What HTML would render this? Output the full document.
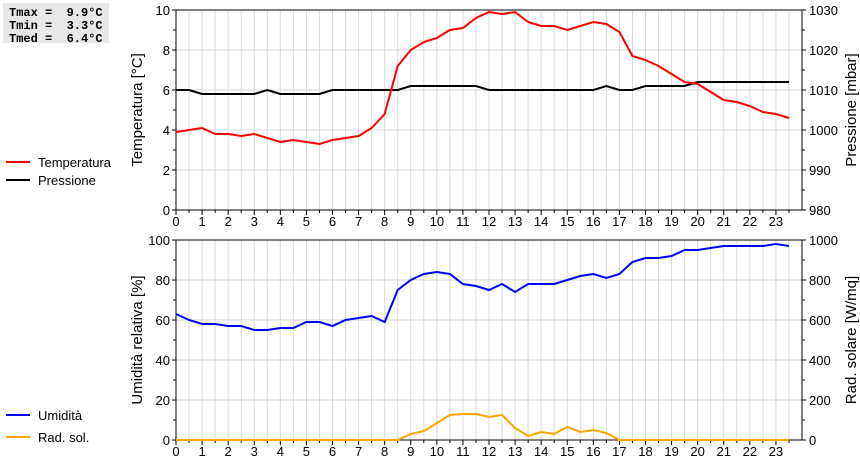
<!DOCTYPE html>
<html><head><meta charset="utf-8"><style>
body{margin:0;background:#fff;width:860px;height:460px;overflow:hidden;font-family:"Liberation Sans",sans-serif}
svg text{font-family:"Liberation Sans",sans-serif;font-size:13px;fill:#000}
</style></head><body>
<svg id="c" width="860" height="460" xmlns="http://www.w3.org/2000/svg">
<g>
<rect x="3" y="3" width="106" height="40" fill="#e8e8e8"/>
<text x="9" y="16" style="font-family:'Liberation Mono',monospace;font-size:12px;font-weight:bold" xml:space="preserve">Tmax =  9.9°C</text>
<text x="9" y="29" style="font-family:'Liberation Mono',monospace;font-size:12px;font-weight:bold" xml:space="preserve">Tmin =  3.3°C</text>
<text x="9" y="42" style="font-family:'Liberation Mono',monospace;font-size:12px;font-weight:bold" xml:space="preserve">Tmed =  6.4°C</text>
</g>
<g>
<line x1="6" y1="162" x2="30" y2="162" stroke="#f00" stroke-width="2"/><text x="38" y="167">Temperatura</text>
<line x1="6" y1="180" x2="30" y2="180" stroke="#000" stroke-width="2"/><text x="38" y="185">Pressione</text>
</g>
<g>
<line x1="6" y1="415" x2="30" y2="415" stroke="#00f" stroke-width="2"/><text x="38" y="420">Umidità</text>
<line x1="6" y1="437" x2="30" y2="437" stroke="#ffa500" stroke-width="2"/><text x="38" y="442">Rad. sol.</text>
</g>
<g id="g"></g>
</svg>
<script>
const hours=[0,0.5,1,1.5,2,2.5,3,3.5,4,4.5,5,5.5,6,6.5,7,7.5,8,8.5,9,9.5,10,10.5,11,11.5,12,12.5,13,13.5,14,14.5,15,15.5,16,16.5,17,17.5,18,18.5,19,19.5,20,20.5,21,21.5,22,22.5,23,23.5];
const temperature=[3.9,4.0,4.1,3.8,3.8,3.7,3.8,3.6,3.4,3.5,3.4,3.3,3.5,3.6,3.7,4.1,4.8,7.2,8.0,8.4,8.6,9.0,9.1,9.6,9.9,9.8,9.9,9.4,9.2,9.2,9.0,9.2,9.4,9.3,8.9,7.7,7.5,7.2,6.8,6.4,6.3,5.9,5.5,5.4,5.2,4.9,4.8,4.6];
const pressure=[1010,1010,1009,1009,1009,1009,1009,1010,1009,1009,1009,1009,1010,1010,1010,1010,1010,1010,1011,1011,1011,1011,1011,1011,1010,1010,1010,1010,1010,1010,1010,1010,1010,1011,1010,1010,1011,1011,1011,1011,1012,1012,1012,1012,1012,1012,1012,1012];
const humidity=[63,60,58,58,57,57,55,55,56,56,59,59,57,60,61,62,59,75,80,83,84,83,78,77,75,78,74,78,78,78,80,82,83,81,83,89,91,91,92,95,95,96,97,97,97,97,98,97];
const radiation=[0,0,0,0,0,0,0,0,0,0,0,0,0,0,0,0,0,0,30,45,85,125,130,130,115,125,60,20,40,30,65,40,50,35,0,0,0,0,0,0,0,0,0,0,0,0,0,0];
const xTicks=[0,1,2,3,4,5,6,7,8,9,10,11,12,13,14,15,16,17,18,19,20,21,22,23];
const tempTicks=[0,2,4,6,8,10];
const presTicks=[980,990,1000,1010,1020,1030];
const humTicks=[0,20,40,60,80,100];
const radTicks=[0,200,400,600,800,1000];
const NS="http://www.w3.org/2000/svg",G=document.getElementById('g');
const X0=176,X1=802,XMAX=24;
const xs=h=>X0+h*(X1-X0)/XMAX;
function mk(t,a,p){const e=document.createElementNS(NS,t);for(const k in a)e.setAttribute(k,a[k]);(p||G).appendChild(e);return e;}
function panel(top,bot,lmin,lmax,lt,rmin,rmax,rt,ltitle,rtitle,name){
 const g=mk('g',{});
 
 
 const yl=v=>bot-(v-lmin)/(lmax-lmin)*(bot-top);
 const yr=v=>bot-(v-rmin)/(rmax-rmin)*(bot-top);
 for(let h=0.5;h<XMAX;h+=0.5)mk('line',{x1:xs(h),x2:xs(h),y1:top,y2:bot,stroke:'#d9d9d9'},g);
 lt.forEach(v=>{mk('line',{x1:X0,x2:X1,y1:yl(v),y2:yl(v),stroke:'#d9d9d9'},g);});
 mk('rect',{x:X0,y:top,width:X1-X0,height:bot-top,fill:'none',stroke:'#000'},g);
 for(let i=0;i<lt.length;i++){const v=lt[i];mk('line',{x1:X0-4,x2:X0,y1:yl(v),y2:yl(v),stroke:'#000'},g);
  const t=mk('text',{x:X0-6,y:yl(v)+5,'text-anchor':'end'},g);t.textContent=v;
  if(i<lt.length-1){const m=(lt[i]+lt[i+1])/2;mk('line',{x1:X0-3,x2:X0,y1:yl(m),y2:yl(m),stroke:'#000'},g);}}
 for(let i=0;i<rt.length;i++){const v=rt[i];mk('line',{x1:X1,x2:X1+4,y1:yr(v),y2:yr(v),stroke:'#000'},g);
  const t=mk('text',{x:X1+7,y:yr(v)+5},g);t.textContent=v;
  if(i<rt.length-1){const m=(rt[i]+rt[i+1])/2;mk('line',{x1:X1,x2:X1+3,y1:yr(m),y2:yr(m),stroke:'#000'},g);}}
 for(let h=0;h<XMAX;h+=0.5)mk('line',{x1:xs(h),x2:xs(h),y1:bot,y2:bot+(h%1?3:5),stroke:'#000'},g);
 xTicks.forEach(h=>{const t=mk('text',{x:xs(h),y:bot+16,'text-anchor':'middle'},g);t.textContent=h;});
 const mid=(top+bot)/2;
 const a=mk('text',{x:0,y:0,'text-anchor':'middle',transform:`translate(142,${mid}) rotate(-90)`,style:'font-size:15px'},g);a.textContent=ltitle;
 const b=mk('text',{x:0,y:0,'text-anchor':'middle',transform:`translate(856,${mid}) rotate(-90)`,style:'font-size:15px'},g);b.textContent=rtitle;
 return {yl,yr,g};
}
function line(vals,ys,color,name,g){
 const p=mk('polyline',{points:vals.map((v,i)=>xs(hours[i])+','+ys(v)).join(' '),fill:'none',stroke:color,'stroke-width':2},g);
 
 
}
const A=panel(10,210,0,10,tempTicks,980,1030,presTicks,'Temperatura [°C]','Pressione [mbar]','top-chart');
line(pressure,A.yr,'#000','pressure-line',A.g);
line(temperature,A.yl,'#f00','temperature-line',A.g);
const B=panel(240,440,0,100,humTicks,0,1000,radTicks,'Umidità relativa [%]','Rad. solare [W/mq]','bottom-chart');
line(humidity,B.yl,'#00f','humidity-line',B.g);
line(radiation,B.yr,'#ffa500','radiation-line',B.g);
</script>
</body></html>
